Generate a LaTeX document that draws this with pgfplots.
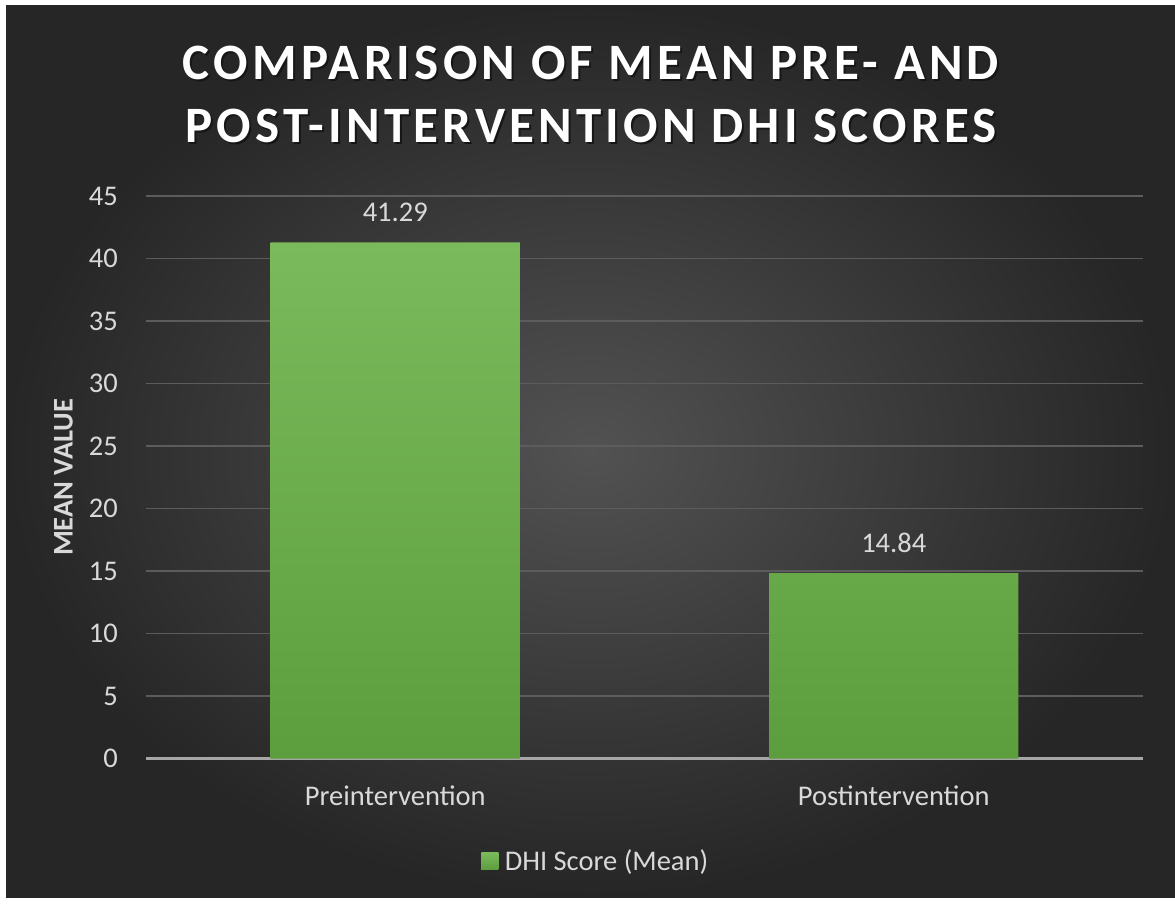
\documentclass[border=0pt]{standalone}
\usepackage{pgfplots}
\pgfplotsset{compat=1.18}
\usepackage{fontspec}
\setmainfont{Carlito}
\newfontfamily\titlefont{Carlito}[LetterSpace=8.2]
\definecolor{bgin}{HTML}{525252}
\definecolor{bgout}{HTML}{262626}
\definecolor{gridc}{HTML}{5C5C5C}
\definecolor{axisc}{HTML}{A6A6A6}
\definecolor{txt}{HTML}{D9D9D9}
\definecolor{bartop}{HTML}{7BBA5C}
\definecolor{barbot}{HTML}{5C9E3E}
\definecolor{barleg}{HTML}{6AB04A}
\definecolor{shadowc}{HTML}{161616}
\newcommand\shadowed[1]{\rlap{\kern2pt\raisebox{-2.5pt}{\textcolor{shadowc}{#1}}}\textcolor{white}{#1}}
\begin{document}
\begin{tikzpicture}[x=1pt,y=1pt]
\fill[white] (0,0) rectangle (1175,-903);
\shade[inner color=bgin, outer color=bgout] (6,-5) rectangle (1175,-897);
\begin{axis}[
  at={(146pt,-758.5pt)}, anchor=south west,
  scale only axis, width=997pt, height=562.5pt,
  xmin=-0.5, xmax=1.5, ymin=0, ymax=45,
  xtick={0,1}, xticklabels={Preintervention,Postintervention},
  ytick={0,5,...,45},
  ymajorgrids, grid style={gridc, line width=1.5pt},
  axis x line*=bottom, axis y line*=left,
  x axis line style={axisc, line width=3pt, -},
  y axis line style={draw=none},
  major tick length=0pt, tick style={draw=none},
  ticklabel style={font=\fontsize{28.5}{34}\selectfont, text=txt, inner sep=0pt},
  yticklabel style={xshift=-28pt},
  xticklabel style={yshift=-27.5pt},
  /pgf/number format/assume math mode=true,
  ylabel={MEAN VALUE},
  ylabel style={at={(axis description cs:-0.0733,0.5)}, anchor=south, font=\bfseries\fontsize{28.5}{34}\selectfont, text=txt, inner sep=0pt},
  legend style={at={(axis description cs:0.4501,-0.1822)}, anchor=center, draw=none, fill=none, text=txt, font=\fontsize{28.5}{34}\selectfont, inner sep=0pt, column sep=6.5pt, nodes={inner sep=0pt}},
  legend image code/.code={\fill[barleg] (0pt,-8.5pt) rectangle (17pt,8.5pt);},
  nodes near coords={\pgfmathprintnumber[fixed,precision=2,fixed zerofill]{\pgfplotspointmeta}},
  nodes near coords style={font=\fontsize{28.5}{34}\selectfont, text=txt, anchor=south, inner sep=0pt, yshift=20pt},
]
\addplot[ybar, bar width=0.5, draw=none, top color=bartop, bottom color=barbot] coordinates {(0,41.29) (1,14.84)};
\addlegendentry{DHI Score (Mean)}
\end{axis}
\node[anchor=base, font=\titlefont\bfseries\fontsize{51}{56}\selectfont, inner sep=0pt] at (591,-79) {\shadowed{COMPARISON OF MEAN PRE- AND}};
\node[anchor=base, font=\titlefont\bfseries\fontsize{51}{56}\selectfont, inner sep=0pt] at (591,-142) {\shadowed{POST-INTERVENTION DHI SCORES}};
\end{tikzpicture}
\end{document}
